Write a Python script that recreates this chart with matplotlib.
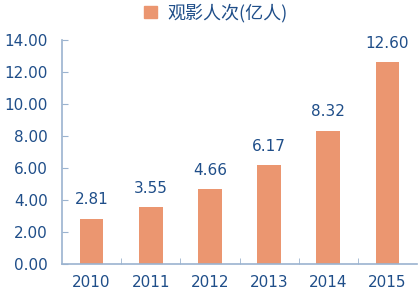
import matplotlib
matplotlib.use("Agg")
import matplotlib.pyplot as plt
from matplotlib.patches import Patch

years = ["2010", "2011", "2012", "2013", "2014", "2015"]
values = [2.81, 3.55, 4.66, 6.17, 8.32, 12.60]
value_labels = ["2.81", "3.55", "4.66", "6.17", "8.32", "12.60"]
series_name = "观影人次(亿人)"

plt.rcParams['font.family'] = ['Noto Sans CJK SC', 'DejaVu Sans']
text_color = "#1F4E89"
bar_color = "#EB9670"
spine_color = "#9BB3CF"
num_font = "DejaVu Sans"
fs = 11

fig = plt.figure(figsize=(4.18, 2.93), dpi=100)
ax = fig.add_axes([62/418, 29/293, 355/418, 224/293])
x = range(len(years))
ax.bar(x, values, width=0.4, color=bar_color, zorder=2)
for xi, v, lab in zip(x, values, value_labels):
    ax.annotate(lab, (xi, v), xytext=(0, 10.5), textcoords="offset points",
                ha="center", va="baseline", fontsize=fs, color=text_color,
                family=num_font)
ax.set_xlim(-0.5, len(years) - 0.5)
ax.set_ylim(0, 14)
ticks = [0, 2, 4, 6, 8, 10, 12, 14]
ax.set_yticks(ticks)
ax.set_yticklabels([f"{t:.2f}" for t in ticks],
                   fontsize=fs, color=text_color, family=num_font)
ax.set_xticks(list(x))
ax.set_xticklabels(years, fontsize=fs, color=text_color, family=num_font)
ax.tick_params(axis="x", length=0, pad=8)
ax.set_xticks([i - 0.5 for i in range(1, len(years))], minor=True)
ax.tick_params(axis="x", which="minor", direction="in", length=4, color=spine_color)
ax.tick_params(axis="y", direction="in", length=4, color=spine_color, pad=10)
for s in ["top", "right"]:
    ax.spines[s].set_visible(False)
for s in ["left", "bottom"]:
    ax.spines[s].set_color(spine_color)
    ax.spines[s].set_linewidth(1.2)

handle = Patch(color=bar_color, label=series_name)
fig.legend(handles=[handle], loc="center", bbox_to_anchor=(216/418, 1 - 13/293),
           frameon=False, fontsize=13, labelcolor=text_color,
           handlelength=0.7, handleheight=0.7, handletextpad=0.6)
fig.savefig("out.png", dpi=100)
